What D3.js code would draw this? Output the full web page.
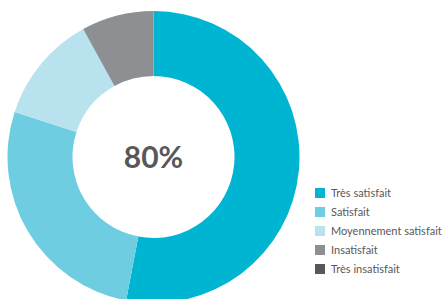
<!DOCTYPE html>
<html lang="fr">
<head>
<meta charset="UTF-8"/>
<title>Satisfaction</title>
<script src="https://cdn.jsdelivr.net/npm/d3@7"></script>
<style>
  body { margin: 0; background: #fff; }
  svg text { font-family: "Lato", "Open Sans", sans-serif; }
</style>
</head>
<body>
<svg id="chart" width="447" height="299"></svg>
<script>
// data
var categories = ["Très satisfait", "Satisfait", "Moyennement satisfait", "Insatisfait", "Très insatisfait"];
var values     = [53, 27, 12, 8, 0];
var colors     = ["#00b5d2", "#6ecde0", "#b8e2ee", "#8e8f93", "#58585a"];
var centerLabel = "80%";

var svg = d3.select("#chart");
var cx = 153.5, cy = 157, outerR = 146, innerR = 81;

var pie = d3.pie().sort(null).value(function(d) { return d; });
var arc = d3.arc().innerRadius(innerR).outerRadius(outerR);

var g = svg.append("g").attr("transform", "translate(" + cx + "," + cy + ")");

g.selectAll("path")
  .data(pie(values))
  .enter()
  .append("path")
    .attr("d", arc)
    .attr("fill", function(d, i) { return colors[i]; });

g.append("text")
  .attr("text-anchor", "middle")
  .attr("y", 11)
  .attr("fill", "#58585a")
  .attr("font-size", 30)
  .attr("font-weight", "bold")
  .text(centerLabel);

// legend
var legendY = d3.scaleBand().domain(categories).range([184, 279]);

var leg = svg.append("g").selectAll("g")
  .data(categories)
  .enter()
  .append("g")
    .attr("transform", function(d) { return "translate(315," + legendY(d) + ")"; });

leg.append("rect")
  .attr("y", 4)
  .attr("width", 10)
  .attr("height", 10)
  .attr("fill", function(d, i) { return colors[i]; });

leg.append("text")
  .attr("x", 16)
  .attr("y", 13)
  .attr("font-size", 11)
  .attr("fill", "#58585a")
  .text(function(d) { return d; });
</script>
</body>
</html>
